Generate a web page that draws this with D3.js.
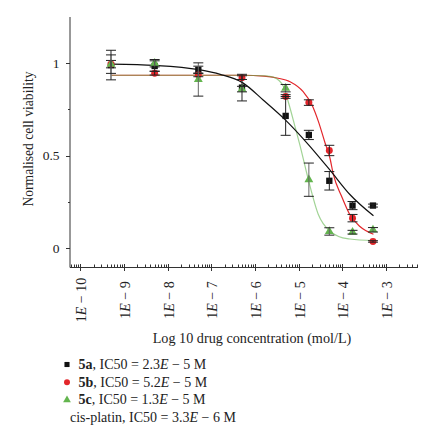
<!DOCTYPE html>
<html>
<head>
<meta charset="utf-8">
<script src="https://cdn.jsdelivr.net/npm/d3@7"></script>
<style>
  html, body { margin: 0; padding: 0; background: #fff; }
  svg { display: block; font-family: "Liberation Serif", "DejaVu Serif", serif; }
</style>
</head>
<body>
<svg id="chart" width="441" height="437"></svg>
<script>
// ---------------- data ----------------
const concentrations = [5e-10, 5e-9, 5e-8, 5e-7, 5e-6, 1.7e-5, 5e-5, 1.7e-4, 5e-4];

const viability5a = [0.99, 0.985, 0.964, 0.868, 0.715, 0.612, 0.364, 0.23, 0.23];
const error5a     = [0.08, 0.028, 0.02, 0.072, 0.105, 0.025, 0.05, 0.022, 0.008];

const viability5b = [0.995, 0.946, 0.937, 0.922, 0.82, 0.787, 0.528, 0.162, 0.036];
const error5b     = [0.02, 0.01, 0.01, 0.01, 0.01, 0.015, 0.028, 0.02, 0.004];

const viability5c = [0.995, 1.0, 0.912, 0.86, 0.865, 0.37, 0.09, 0.086, 0.099];
const error5c     = [0.05, 0.02, 0.09, 0.015, 0.02, 0.09, 0.02, 0.01, 0.012];

// fitted curves, points (log10 concentration, viability)
const fitLog5a = [-9.285, -8.29, -7.285, -6.8, -6.29, -5.81, -5.315, -4.78, -4.28, -3.83, -3.29];
const fitVal5a = [0.995, 0.988, 0.965, 0.94, 0.895, 0.80, 0.695, 0.56, 0.42, 0.29, 0.175];

const fitLog5b = [-9.285, -6.29, -5.8, -5.5, -5.2, -4.9, -4.7, -4.55, -4.4, -4.29, -4.21, -4.02, -3.83, -3.6, -3.29];
const fitVal5b = [0.935, 0.935, 0.93, 0.92, 0.90, 0.846, 0.775, 0.684, 0.57, 0.49, 0.40, 0.28, 0.18, 0.117, 0.075];

const fitLog5c = [-9.285, -6.29, -5.77, -5.58, -5.35, -5.24, -5.09, -4.97, -4.78, -4.55, -4.28, -4.09, -3.83, -3.29];
const fitVal5c = [0.935, 0.935, 0.932, 0.925, 0.874, 0.79, 0.66, 0.553, 0.369, 0.18, 0.09, 0.063, 0.049, 0.04];

const xTickExponents = [-10, -9, -8, -7, -6, -5, -4, -3];
const yTickValues = [0, 0.5, 1];
const yTickLabels = ["0", "0.5", "1"];
const yMinorTicks = [0.25, 0.75];

const seriesNames = ["5a", "5b", "5c"];
const ic50Mantissa = ["2.3", "5.2", "1.3"];
const ic50Exponent = ["5", "5", "5"];
const cisplatinName = "cis-platin";
const cisplatinMantissa = "3.3";
const cisplatinExponent = "6";

const xTitle = "Log 10 drug concentration (mol/L)";
const yTitle = "Normalised cell viability";

// ---------------- drawing ----------------
const svg = d3.select("#chart");
const MINUS = "\u2212";

const colors = { "5a": "#111111", "5b": "#e3262b", "5c": "#63b54e" };

const x = d3.scaleLog()
  .domain([Math.pow(10, -10.24), Math.pow(10, -2.27)])
  .range([70, 418]);
const y = d3.scaleLinear()
  .domain([-0.105, 1.25])
  .range([267.5, 17]);

const axisY0 = 267.5;
const axisX0 = 70;

// axis lines
svg.append("line")
  .attr("x1", axisX0).attr("x2", axisX0)
  .attr("y1", y(1.25)).attr("y2", axisY0)
  .attr("stroke", "#333").attr("stroke-width", 1);
svg.append("line")
  .attr("x1", axisX0).attr("x2", x.range()[1])
  .attr("y1", axisY0).attr("y2", axisY0)
  .attr("stroke", "#333").attr("stroke-width", 1);

// x ticks: major and minor (log)
const xAll = x.ticks(100).filter(v => v >= x.domain()[0] && v <= x.domain()[1]);
xAll.forEach(v => {
  const lg = Math.log10(v);
  const major = Math.abs(lg - Math.round(lg)) < 1e-9;
  const px = Math.round(x(v)) + 0.5;
  svg.append("line")
    .attr("x1", px).attr("x2", px)
    .attr("y1", major ? axisY0 - 3.5 : axisY0 - 3)
    .attr("y2", major ? axisY0 + 3.5 : axisY0)
    .attr("stroke", "#333").attr("stroke-width", 1);
});

// x tick labels rotated
xTickExponents.forEach(e => {
  const px = x(Math.pow(10, e)) + 1;
  const t = svg.append("text")
    .attr("transform", `translate(${px + 5},300) rotate(-90)`)
    .attr("text-anchor", "middle")
    .attr("font-size", 14)
    .attr("fill", "#222");
  t.append("tspan").text("1");
  t.append("tspan").attr("font-style", "italic").text("E");
  t.append("tspan").text(" " + MINUS + " " + Math.abs(e));
});

// y ticks
yTickValues.forEach((v, i) => {
  const py = Math.round(y(v)) + 0.5;
  svg.append("line")
    .attr("x1", axisX0 - 4).attr("x2", axisX0)
    .attr("y1", py).attr("y2", py)
    .attr("stroke", "#333");
  svg.append("text")
    .attr("x", 59.5).attr("y", y(v) + 4.5)
    .attr("text-anchor", "end")
    .attr("font-size", 13.5)
    .attr("fill", "#222")
    .text(yTickLabels[i]);
});
yMinorTicks.forEach(v => {
  const py = Math.round(y(v)) + 0.5;
  svg.append("line")
    .attr("x1", axisX0 - 2).attr("x2", axisX0)
    .attr("y1", py).attr("y2", py)
    .attr("stroke", "#333");
});

// axis titles
svg.append("text")
  .attr("transform", `translate(32.5,139) rotate(-90)`)
  .attr("text-anchor", "middle")
  .attr("font-size", 13.6)
  .attr("fill", "#222")
  .text(yTitle);
svg.append("text")
  .attr("x", 252).attr("y", 342.5)
  .attr("text-anchor", "middle")
  .attr("font-size", 14.2)
  .attr("fill", "#222")
  .text(xTitle);

// fitted curves
const line = d3.line()
  .x(d => x(Math.pow(10, d[0])))
  .y(d => y(d[1]))
  .curve(d3.curveMonotoneX);

const fits = [
  { name: "5b", logs: fitLog5b, vals: fitVal5b, opacity: 1 },
  { name: "5c", logs: fitLog5c, vals: fitVal5c, opacity: 0.6 },
  { name: "5a", logs: fitLog5a, vals: fitVal5a, opacity: 1 }
];
fits.forEach(f => {
  svg.append("path")
    .datum(f.logs.map((l, i) => [l, f.vals[i]]))
    .attr("d", line)
    .attr("fill", "none")
    .attr("stroke", colors[f.name])
    .attr("stroke-opacity", f.opacity)
    .attr("stroke-width", 1.2);
});

// markers
const series = [
  { name: "5a", vals: viability5a, errs: error5a, shape: d3.symbolSquare, size: 40 },
  { name: "5b", vals: viability5b, errs: error5b, shape: d3.symbolCircle, size: 38 },
  { name: "5c", vals: viability5c, errs: error5c, shape: d3.symbolTriangle, size: 34 }
];
const sym = d3.symbol();
series.forEach(s => {
  svg.append("g").selectAll("path")
    .data(concentrations)
    .join("path")
    .attr("transform", (c, i) => `translate(${x(c)},${y(s.vals[i])})`)
    .attr("d", sym.type(s.shape).size(s.size)())
    .attr("fill", colors[s.name]);
});

// error bars (drawn over markers)
series.forEach(s => {
  const g = svg.append("g")
    .attr("stroke", s.name === "5c" ? "#666" : "#222")
    .attr("stroke-width", 1)
    .attr("fill", "none");
  concentrations.forEach((c, i) => {
    const cx = x(c);
    const top = y(s.vals[i] + s.errs[i]);
    const bot = y(s.vals[i] - s.errs[i]);
    g.append("line").attr("x1", cx).attr("x2", cx).attr("y1", top).attr("y2", bot);
    g.append("line").attr("x1", cx - 5).attr("x2", cx + 5).attr("y1", top).attr("y2", top).attr("stroke", "#222");
    g.append("line").attr("x1", cx - 5).attr("x2", cx + 5).attr("y1", bot).attr("y2", bot).attr("stroke", "#222");
  });
});

// legend
const legendRows = [369, 386.7, 404.4, 422];
const legendSymbols = [d3.symbolSquare, d3.symbolCircle, d3.symbolTriangle];
const legendSizes = [26, 28, 26];
seriesNames.forEach((n, i) => {
  svg.append("path")
    .attr("transform", `translate(67,${legendRows[i] - 4.5})`)
    .attr("d", d3.symbol().type(legendSymbols[i]).size(legendSizes[i])())
    .attr("fill", colors[n]);
  const t = svg.append("text")
    .attr("x", 78.5).attr("y", legendRows[i])
    .attr("font-size", 14)
    .attr("fill", "#222");
  t.append("tspan").attr("font-weight", "bold").text(n);
  t.append("tspan").text(", IC50 = " + ic50Mantissa[i]);
  t.append("tspan").attr("font-style", "italic").text("E");
  t.append("tspan").text(" " + MINUS + " " + ic50Exponent[i] + " M");
});
{
  const t = svg.append("text")
    .attr("x", 70).attr("y", legendRows[3])
    .attr("font-size", 14)
    .attr("fill", "#222");
  t.append("tspan").text(cisplatinName + ", IC50 = " + cisplatinMantissa);
  t.append("tspan").attr("font-style", "italic").text("E");
  t.append("tspan").text(" " + MINUS + " " + cisplatinExponent + " M");
}
</script>
</body>
</html>
